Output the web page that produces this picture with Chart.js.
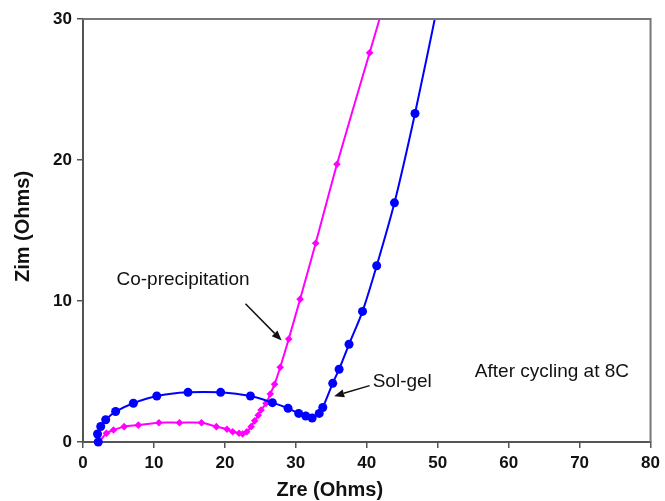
<!DOCTYPE html>
<html>
<head>
<meta charset="utf-8">
<script src="https://cdn.jsdelivr.net/npm/chart.js@4"></script>
<style>
  html, body { margin: 0; padding: 0; background: #fff; }
  #wrap { width: 665px; height: 501px; position: relative; }
</style>
</head>
<body>
<div id="wrap"><canvas id="c" width="665" height="501"></canvas></div>
<script>
// Sol-gel (blue circles)
const solgelX = [2.15, 2.05, 2.5, 3.2, 4.6, 7.1, 10.4, 14.8, 19.4, 23.6, 26.7, 28.9, 30.4, 31.4, 32.3, 33.3, 33.8, 35.2, 36.1, 37.5, 39.4, 41.4, 43.9, 46.8, 50.2];
const solgelY = [0.0, 0.57, 1.1, 1.58, 2.16, 2.75, 3.26, 3.52, 3.52, 3.26, 2.79, 2.39, 2.03, 1.84, 1.7, 2.03, 2.45, 4.16, 5.16, 6.93, 9.26, 12.5, 16.96, 23.3, 31.5];
// Co-precipitation (magenta diamonds)
const coprecipX = [2.3, 3.3, 4.3, 5.8, 7.8, 10.7, 13.6, 16.7, 18.8, 20.3, 21.1, 22.0, 22.5, 23.1, 23.7, 24.2, 24.7, 25.1, 25.8, 26.4, 27.0, 27.8, 29.0, 30.6, 32.8, 35.8, 40.4, 42.5];
const coprecipY = [0.0, 0.62, 0.85, 1.09, 1.2, 1.37, 1.37, 1.37, 1.09, 0.9, 0.73, 0.62, 0.57, 0.73, 1.09, 1.5, 1.9, 2.27, 2.74, 3.4, 4.1, 5.3, 7.3, 10.13, 14.1, 19.7, 27.6, 31.2];

const xTicks = [0, 10, 20, 30, 40, 50, 60, 70, 80];
const yTicks = [0, 10, 20, 30];

const xTitle = "Zre (Ohms)";
const yTitle = "Zim (Ohms)";

// annotations: [text, x, y] in data units; arrows: [x1, y1, x2, y2]
const labelTexts = ["Co-precipitation", "Sol-gel", "After cycling at 8C"];
const labelX = [14.1, 45.0, 66.1];
const labelY = [11.5, 4.3, 5.0];
const arrowFrom = [[22.9, 9.8], [40.4, 4.0]];
const arrowTo = [[28.0, 7.2], [35.4, 3.25]];

const toPts = (xs, ys) => xs.map((x, i) => ({ x: x, y: ys[i] }));
const radii = (n, r) => Array.from({ length: n }, (_, i) => (i === n - 1 ? 0 : r));

const FONT = "'Liberation Sans', Arial, sans-serif";
const AXIS_COLOR = '#555';

const overlay = {
  id: 'overlay',
  afterDraw(chart) {
    const ctx = chart.ctx;
    const ca = chart.chartArea;
    const xs = chart.scales.x, ys = chart.scales.y;
    ctx.save();
    // top and right frame lines
    ctx.strokeStyle = '#777';
    ctx.lineWidth = 2;
    ctx.beginPath();
    ctx.moveTo(ca.left, ca.top);
    ctx.lineTo(ca.right, ca.top);
    ctx.lineTo(ca.right, ca.bottom);
    ctx.stroke();

    // axis titles
    ctx.fillStyle = '#111';
    ctx.font = 'bold 20px ' + FONT;
    ctx.textAlign = 'center';
    ctx.textBaseline = 'middle';
    ctx.fillText(xTitle, (ca.left + ca.right) / 2 - 37, 490);
    ctx.save();
    ctx.translate(23, (ca.top + ca.bottom) / 2 - 4);
    ctx.rotate(-Math.PI / 2);
    ctx.fillText(yTitle, 0, 0);
    ctx.restore();

    // annotation texts
    ctx.font = '19px ' + FONT;
    ctx.fillStyle = '#111';
    labelTexts.forEach((t, i) => {
      ctx.fillText(t, xs.getPixelForValue(labelX[i]), ys.getPixelForValue(labelY[i]));
    });

    // arrows
    ctx.strokeStyle = '#111';
    ctx.fillStyle = '#111';
    ctx.lineWidth = 1.5;
    arrowFrom.forEach((f, i) => {
      const x1 = xs.getPixelForValue(f[0]), y1 = ys.getPixelForValue(f[1]);
      const x2 = xs.getPixelForValue(arrowTo[i][0]), y2 = ys.getPixelForValue(arrowTo[i][1]);
      const ang = Math.atan2(y2 - y1, x2 - x1);
      const hl = 10, hw = 4;
      const bx = x2 - hl * Math.cos(ang), by = y2 - hl * Math.sin(ang);
      ctx.beginPath();
      ctx.moveTo(x1, y1);
      ctx.lineTo(bx, by);
      ctx.stroke();
      ctx.beginPath();
      ctx.moveTo(x2, y2);
      ctx.lineTo(bx + hw * Math.sin(ang), by - hw * Math.cos(ang));
      ctx.lineTo(bx - hw * Math.sin(ang), by + hw * Math.cos(ang));
      ctx.closePath();
      ctx.fill();
    });
    ctx.restore();
  }
};

new Chart(document.getElementById('c'), {
  type: 'line',
  data: {
    datasets: [
      {
        label: 'Co-precipitation',
        data: toPts(coprecipX, coprecipY),
        borderColor: '#FF00FF',
        backgroundColor: '#FF00FF',
        borderWidth: 2,
        pointStyle: 'rectRot',
        pointRadius: radii(coprecipX.length, 3.8),
        pointBorderWidth: 0,
        tension: 0.3,
        clip: { left: 6, bottom: 6, top: 0, right: 0 },
        order: 2
      },
      {
        label: 'Sol-gel',
        data: toPts(solgelX, solgelY),
        borderColor: '#0000FF',
        backgroundColor: '#0000FF',
        borderWidth: 2,
        pointStyle: 'circle',
        pointRadius: radii(solgelX.length, 4.5),
        pointBorderWidth: 0,
        tension: 0.3,
        clip: { left: 6, bottom: 6, top: 0, right: 0 },
        order: 1
      }
    ]
  },
  options: {
    responsive: false,
    animation: false,
    layout: { padding: { left: 0, right: 13, top: 19, bottom: 0 } },
    plugins: { legend: { display: false }, tooltip: { enabled: false } },
    scales: {
      x: {
        type: 'linear',
        min: 0, max: 80,
        afterBuildTicks: s => { s.ticks = xTicks.map(v => ({ value: v })); },
        afterFit: s => { s.height = 59; },
        border: { display: true, color: AXIS_COLOR, width: 2 },
        grid: { drawOnChartArea: false, drawTicks: true, tickLength: 6, color: AXIS_COLOR, lineWidth: 1.5 },
        ticks: { color: '#111', font: { family: FONT, size: 17, weight: 'bold' }, padding: 5, maxRotation: 0 }
      },
      y: {
        type: 'linear',
        min: 0, max: 30,
        afterBuildTicks: s => { s.ticks = yTicks.map(v => ({ value: v })); },
        afterFit: s => { s.width = 83; },
        border: { display: true, color: AXIS_COLOR, width: 2 },
        grid: { drawOnChartArea: false, drawTicks: true, tickLength: 6, color: AXIS_COLOR, lineWidth: 1.5 },
        ticks: { color: '#111', font: { family: FONT, size: 17, weight: 'bold' }, padding: 5 }
      }
    }
  },
  plugins: [overlay]
});
</script>
</body>
</html>
